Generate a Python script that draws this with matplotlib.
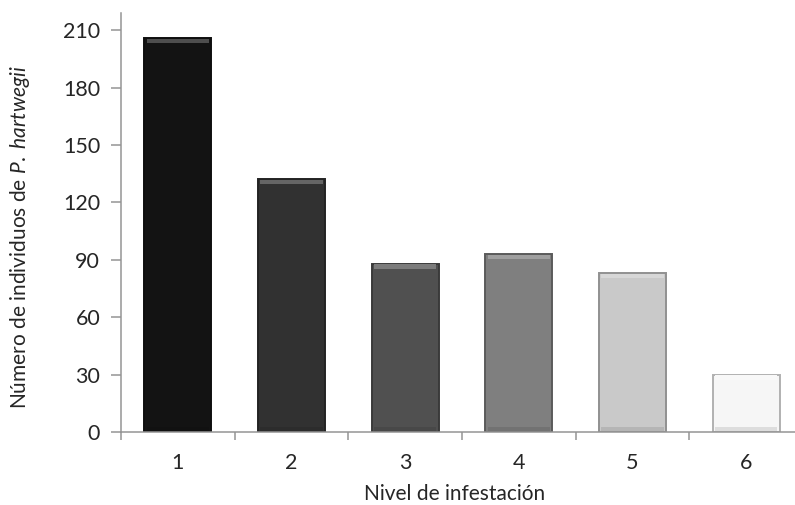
import matplotlib.pyplot as plt
import matplotlib.colors as mcolors
import numpy as np

plt.rcParams['font.family'] = ['Lato', 'DejaVu Sans']
plt.rcParams['mathtext.fontset'] = 'custom'
plt.rcParams['mathtext.rm'] = 'Lato'
plt.rcParams['mathtext.it'] = 'Lato:italic'

# infestation level vs. number of individuals
niveles = ['1', '2', '3', '4', '5', '6']
individuos = [206, 132, 88, 93, 83, 30]
colores = ['#131313', '#313131', '#505050', '#7f7f7f', '#c9c9c9', '#f6f6f6']

fig = plt.figure(figsize=(7.95, 5.05), dpi=100)
ax = fig.add_axes([121 / 795, 1 - 432 / 505, 682 / 795, 419 / 505])

x = np.arange(1, len(niveles) + 1)
ancho = 0.59

for xi, val, col in zip(x, individuos, colores):
    rgb = np.array(mcolors.to_rgb(col))
    borde = rgb * 0.72
    claro = rgb + (1 - rgb) * 0.25
    # main body with a darker rim
    ax.bar(xi, val, width=ancho, color=col, edgecolor=borde, linewidth=1.4, zorder=2)
    # bevel highlight along the top
    ax.bar(xi, 2.2, bottom=val - 2.6, width=ancho * 0.93, color=claro,
           linewidth=0, zorder=3)
    # subtle shade at the base
    ax.bar(xi, 1.8, bottom=0.6, width=ancho * 0.93, color=borde,
           alpha=0.35, linewidth=0, zorder=3)

ax.set_xlim(0.5, 6.5)
ax.set_ylim(0, 219)
ax.set_yticks(range(0, 211, 30))
ax.set_xticks(x)
ax.set_xticklabels(niveles)
ax.set_xticks(np.arange(0.5, 7, 1), minor=True)

for s in ['top', 'right']:
    ax.spines[s].set_visible(False)
for s in ['left', 'bottom']:
    ax.spines[s].set_color('#949494')
    ax.spines[s].set_linewidth(1.1)

ax.tick_params(axis='y', length=7, width=1.1, color='#949494', labelsize=15.5,
               labelcolor='#262626', pad=8)
ax.tick_params(axis='x', which='major', length=0, labelsize=15.5,
               labelcolor='#262626', pad=15)
ax.tick_params(axis='x', which='minor', length=6, width=1.1, color='#949494')

ax.set_xlabel('Nivel de infestación', fontsize=15, color='#262626')
ax.set_ylabel(r'Número de individuos de $\mathit{P.\ hartwegii}$', fontsize=15,
              color='#262626')
ax.xaxis.set_label_coords((455 - 121) / 682, -(494 - 432) / 419)
ax.yaxis.set_label_coords(-(121 - 20) / 682, (432 - 237) / 419)
ax.xaxis.label.set_va('center')
ax.yaxis.label.set_va('center')

fig.savefig('out.png', dpi=100)
